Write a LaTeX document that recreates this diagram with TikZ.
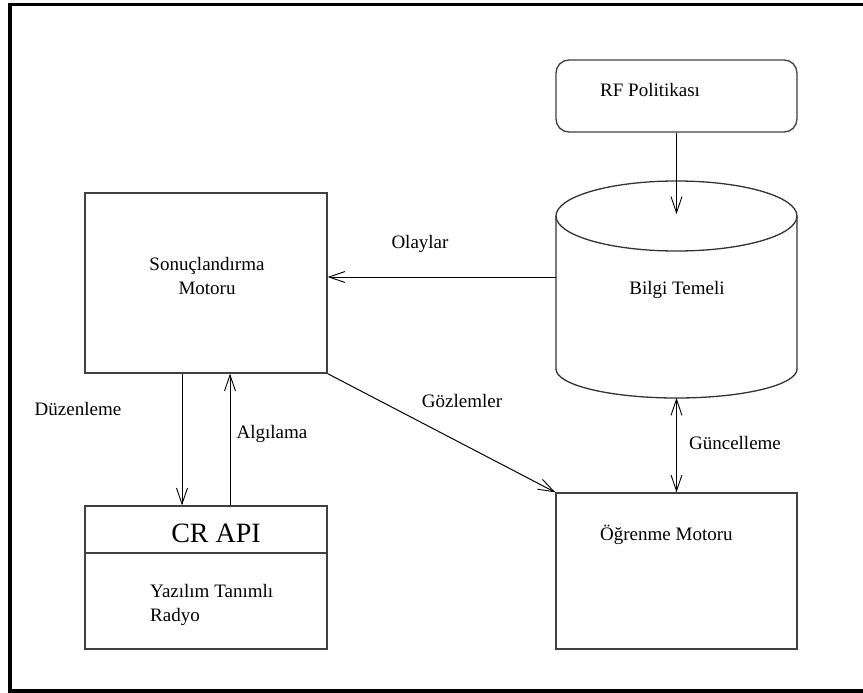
\documentclass[tikz,border=0pt]{standalone}
\usepackage{fontspec}
\setmainfont{Liberation Serif}
\usetikzlibrary{arrows.meta}

\tikzset{
  box/.style={draw=black!75, line width=1.3pt, inner sep=0pt, fill=white},
  lbl/.style={inner sep=0pt, font=\fontsize{19}{24}\selectfont, align=center},
  conn/.style={draw=black, line width=1pt,
    -{Straight Barb[length=16pt, width=11pt, line width=0.9pt]}},
  bothconn/.style={draw=black, line width=1pt,
    {Straight Barb[length=16pt, width=11pt, line width=0.9pt]}-{Straight Barb[length=16pt, width=11pt, line width=0.9pt]}},
}

\begin{document}
\begin{tikzpicture}[x=1pt, y=-1pt]
  \useasboundingbox (0,0) rectangle (863,693);
  \fill[white] (0,0) rectangle (863,693);

  % outer frame
  \draw[line width=3.6pt, black] (870,4.6) -- (9.8,4.6) -- (9.8,691.2) -- (870,691.2);

  % boxes
  \node[box, minimum width=242pt, minimum height=180pt] (sm) at (206,283) {};
  \node[box, minimum width=242pt, minimum height=143pt] (cr) at (206,577.5) {};
  \draw[draw=black!75, line width=1.3pt] (cr.west |- 0,553) -- (cr.east |- 0,553);
  \node[box, rounded corners=13pt, minimum width=241pt, minimum height=72pt] (rf) at (676.5,96) {};
  \node[box, minimum width=241pt, minimum height=156pt] (om) at (676.5,571) {};

  % knowledge-base cylinder
  \coordinate (kbtop) at (676.5,214);
  \coordinate (kbleft) at (556,277);
  \coordinate (kbbottom) at (676.5,398);
  \draw[draw=black!80, line width=1.3pt, fill=white]
    (556,216) -- (556,369) arc[start angle=180, end angle=360, x radius=120.5pt, y radius=29pt]
    -- (797,216) arc[start angle=0, end angle=180, x radius=120.5pt, y radius=35pt] -- cycle;
  \draw[draw=black!80, line width=1.3pt]
    (556,216) arc[start angle=180, end angle=360, x radius=120.5pt, y radius=35pt];

  % texts
  \node[lbl, anchor=west] (trf) at (600,90) {RF Politikası};
  \node[lbl] (tkb) at (677,290) {Bilgi Temeli};
  \node[lbl] (tsm) at (207,276) {Sonuçlandırma\\Motoru};
  \node[lbl] (tcr) at (216,533) {\fontsize{28}{30}\selectfont CR API};
  \node[lbl, anchor=west, align=left] (tsdr) at (150,605) {Yazılım Tanımlı\\Radyo};
  \node[lbl, anchor=west] (tom) at (600,535) {Öğrenme Motoru};
  \node[lbl] (tolay) at (420,244) {Olaylar};
  \node[lbl] (tgoz) at (462,401) {Gözlemler};
  \node[lbl] (tduz) at (78,409) {Düzenleme};
  \node[lbl] (talg) at (272,434) {Algılama};
  \node[lbl] (tgun) at (735,443) {Güncelleme};

  % connectors
  \draw[conn] (rf.south) -- (kbtop);
  \draw[conn] (kbleft) -- (kbleft -| sm.east);
  \draw[conn] (sm.south -| 182,0) -- (cr.north -| 182,0);
  \draw[conn] (cr.north -| 230,0) -- (sm.south -| 230,0);
  \draw[conn] (sm.south east) -- (om.north west);
  \draw[bothconn] (kbbottom) -- (om.north);
\end{tikzpicture}
\end{document}
